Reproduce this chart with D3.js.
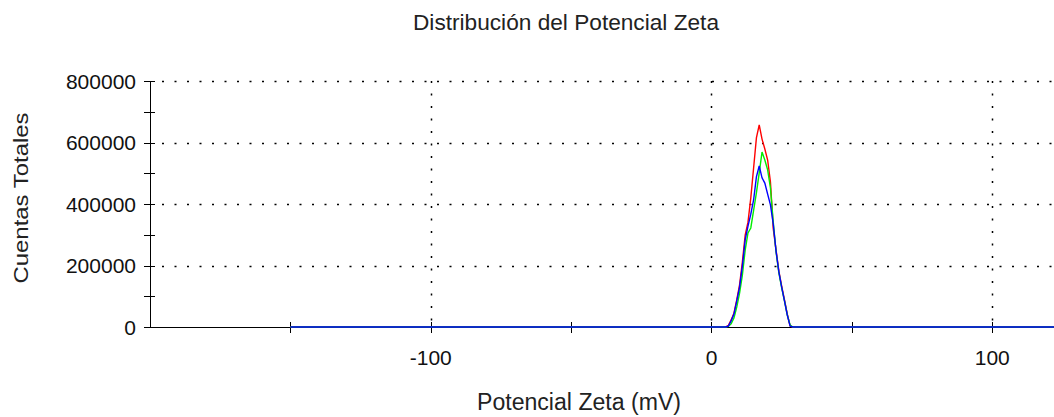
<!DOCTYPE html>
<html>
<head>
<meta charset="utf-8">
<script src="https://cdn.jsdelivr.net/npm/d3@7"></script>
<style>
  html, body { margin: 0; padding: 0; background: #fff; }
  #chart { width: 1054px; height: 417px; }
  text { font-family: "Liberation Sans", Arial, sans-serif; }
</style>
</head>
<body>
<div id="chart"></div>
<script>
// Zeta potential (mV) sample points
const zeta = [-150, 5, 6, 7, 8, 9, 10, 11, 12, 13, 14, 15, 16, 17, 18, 19, 20, 21, 22, 23, 24, 25, 26, 27, 28, 29, 122];

// Total counts per run
const run1 = [0, 0, 5000, 23000, 45000, 88000, 137000, 211000, 299000, 341000, 420000, 517000, 615000, 657000, 611000, 579000, 543000, 471000, 320000, 250000, 182000, 133000, 88000, 42000, 3000, 0, 0];
const run2 = [0, 0, 2000, 10000, 29000, 65000, 110000, 169000, 250000, 306000, 322000, 379000, 436000, 501000, 569000, 543000, 511000, 452000, 341000, 244000, 176000, 127000, 85000, 39000, 6500, 0, 0];
const run3 = [0, 0, 3000, 20000, 42000, 85000, 130000, 198000, 283000, 328000, 367000, 413000, 488000, 524000, 485000, 468000, 432000, 397000, 335000, 247000, 179000, 130000, 85000, 39000, 3000, 0, 0];

const seriesColors = ['#ff0000', '#00ee00', '#0000ff'];

const xMajor = [-100, 0, 100];
const xMinor = [-150, -50, 50];
const yMajor = [0, 200000, 400000, 600000, 800000];
const yMinor = [100000, 300000, 500000, 700000];

const chartTitle = 'Distribución del Potencial Zeta';
const xTitle = 'Potencial Zeta (mV)';
const yTitle = 'Cuentas Totales';

function drawChart(container) {
    const width = 1054;
    const height = 417;
    const margin = { top: 81, right: 0, bottom: 90, left: 150 };
    const innerW = width - margin.left - margin.right;
    const innerH = height - margin.top - margin.bottom;

    const svg = d3.select(container)
        .append('svg')
        .attr('width', width)
        .attr('height', height);

    const x = d3.scaleLinear().domain([-200, 122]).range([0, innerW]);
    const y = d3.scaleLinear().domain([0, 800000]).range([innerH, 0]);

    const g = svg.append('g').attr('transform', `translate(${margin.left},${margin.top})`);

    // clip for the curves
    svg.append('defs').append('clipPath').attr('id', 'plot-clip')
        .append('rect').attr('width', innerW).attr('height', innerH + 2).attr('y', -1);

    // dotted grid
    g.append('g').selectAll('line')
        .data(xMajor)
        .join('line')
        .attr('x1', d => Math.round(x(d)) + 0.5).attr('x2', d => Math.round(x(d)) + 0.5)
        .attr('y1', 0).attr('y2', innerH)
        .attr('stroke', '#000')
        .attr('stroke-width', 1.5)
        .attr('stroke-dasharray', '2,10.5');

    g.append('g').selectAll('line')
        .data(yMajor.filter(d => d > 0))
        .join('line')
        .attr('x1', 12).attr('x2', innerW)
        .attr('y1', d => Math.round(y(d)) + 0.5).attr('y2', d => Math.round(y(d)) + 0.5)
        .attr('stroke', '#000')
        .attr('stroke-width', 1.5)
        .attr('stroke-dasharray', '2,10.5');

    // y axis
    const yAxis = g.append('g').attr('class', 'y-axis');
    yAxis.append('line')
        .attr('x1', 0.5).attr('x2', 0.5)
        .attr('y1', 0).attr('y2', innerH)
        .attr('stroke', '#000');
    yAxis.selectAll('.tick')
        .data(yMajor.concat(yMinor))
        .join('line')
        .attr('x1', -6).attr('x2', 5)
        .attr('y1', d => Math.round(y(d)) + 0.5).attr('y2', d => Math.round(y(d)) + 0.5)
        .attr('stroke', '#000');
    yAxis.selectAll('text')
        .data(yMajor)
        .join('text')
        .attr('x', -14)
        .attr('y', d => y(d))
        .attr('dy', '0.36em')
        .attr('text-anchor', 'end')
        .style('font-size', '21px')
        .style('fill', '#111')
        .text(d => d3.format('d')(d));

    // x axis
    const xAxis = g.append('g').attr('class', 'x-axis').attr('transform', `translate(0,${innerH})`);
    xAxis.append('line')
        .attr('x1', 0).attr('x2', innerW)
        .attr('y1', 0.5).attr('y2', 0.5)
        .attr('stroke', '#000');
    xAxis.selectAll('.tick')
        .data(xMajor.concat(xMinor))
        .join('line')
        .attr('x1', d => Math.round(x(d)) + 0.5).attr('x2', d => Math.round(x(d)) + 0.5)
        .attr('y1', -5).attr('y2', 6)
        .attr('stroke', '#000');
    xAxis.selectAll('text')
        .data(xMajor)
        .join('text')
        .attr('x', d => x(d))
        .attr('y', 38)
        .attr('text-anchor', 'middle')
        .style('font-size', '21px')
        .style('fill', '#111')
        .text(d => d);

    // curves
    const series = [run1, run2, run3];
    const line = d3.line()
        .x((d, i) => x(zeta[i]))
        .y(d => y(d));

    g.append('g')
        .attr('clip-path', 'url(#plot-clip)')
        .selectAll('path')
        .data(series)
        .join('path')
        .attr('d', d => line(d))
        .attr('fill', 'none')
        .attr('stroke', (d, i) => seriesColors[i])
        .attr('stroke-width', 1.4);

    // titles
    svg.append('text')
        .attr('x', 566)
        .attr('y', 30)
        .attr('text-anchor', 'middle')
        .attr('textLength', 306)
        .attr('lengthAdjust', 'spacingAndGlyphs')
        .style('font-size', '22px')
        .style('fill', '#222')
        .text(chartTitle);

    svg.append('text')
        .attr('x', 579)
        .attr('y', 410)
        .attr('text-anchor', 'middle')
        .attr('textLength', 204)
        .attr('lengthAdjust', 'spacingAndGlyphs')
        .style('font-size', '23px')
        .style('fill', '#222')
        .text(xTitle);

    svg.append('text')
        .attr('transform', 'translate(28,198) rotate(-90)')
        .attr('text-anchor', 'middle')
        .attr('textLength', 171)
        .attr('lengthAdjust', 'spacingAndGlyphs')
        .style('font-size', '21px')
        .style('fill', '#222')
        .text(yTitle);
}

drawChart(document.getElementById('chart'));
</script>
</body>
</html>
